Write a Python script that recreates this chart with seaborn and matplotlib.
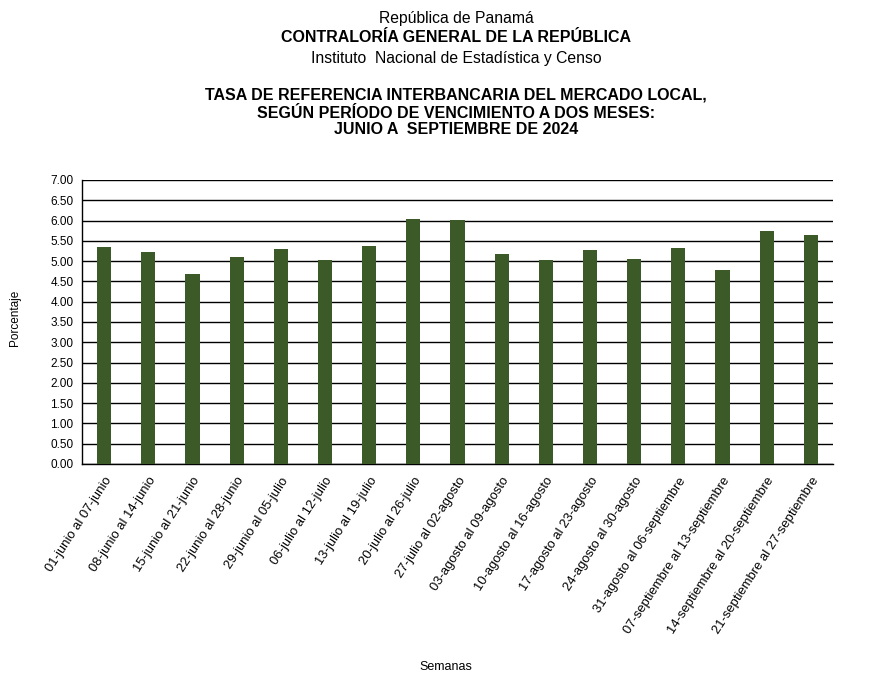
import matplotlib
matplotlib.use("Agg")
import matplotlib.pyplot as plt
import seaborn as sns
import pandas as pd

semanas = [
    "01-junio al 07-junio", "08-junio al 14-junio", "15-junio al 21-junio",
    "22-junio al 28-junio", "29-junio al 05-julio", "06-julio al 12-julio",
    "13-julio al 19-julio", "20-julio al 26-julio", "27-julio al 02-agosto",
    "03-agosto al 09-agosto", "10-agosto al 16-agosto", "17-agosto al 23-agosto",
    "24-agosto al 30-agosto", "31-agosto al 06-septiembre",
    "07-septiembre al 13-septiembre", "14-septiembre al 20-septiembre",
    "21-septiembre al 27-septiembre",
]
tasas = [5.35, 5.23, 4.68, 5.10, 5.30, 5.03, 5.37, 6.04, 6.01,
         5.18, 5.03, 5.27, 5.05, 5.32, 4.78, 5.74, 5.64]
yticks = [0.0, 0.5, 1.0, 1.5, 2.0, 2.5, 3.0, 3.5, 4.0, 4.5, 5.0, 5.5, 6.0, 6.5, 7.0]

df = pd.DataFrame({"Semana": semanas, "Tasa": tasas})

sns.set_theme(style="white")
plt.rcParams["font.family"] = ["Liberation Sans", "DejaVu Sans"]
plt.rcParams["text.color"] = "black"
plt.rcParams["xtick.color"] = "black"
plt.rcParams["ytick.color"] = "black"

fig = plt.figure(figsize=(8.77, 6.76), dpi=100)
ax = fig.add_axes([82/877, 1-464/676, (833-82)/877, (464-180)/676])

sns.barplot(data=df, x="Semana", y="Tasa", color="#3B5A27", saturation=1,
            width=0.32, ax=ax, zorder=3, edgecolor="none", linewidth=0)

ax.set_ylim(0, 7.0)
ax.set_xlim(-0.5, len(semanas)-0.5)
ax.set_yticks(yticks)
ax.set_yticklabels([f"{v:.2f}" for v in yticks], fontsize=8.5, color="black")
ax.yaxis.grid(True, color="black", linewidth=1.0, zorder=0)
ax.set_axisbelow(True)
for s in ["top", "right"]:
    ax.spines[s].set_visible(False)
for s in ["left", "bottom"]:
    ax.spines[s].set_visible(True)
    ax.spines[s].set_color("black")
    ax.spines[s].set_linewidth(1.0)
ax.tick_params(axis="both", length=0, pad=6, colors="black")
ax.set_xticks(range(len(semanas)))
ax.set_xticklabels(semanas, rotation=57, ha="right", rotation_mode="anchor",
                   fontsize=9.4, color="black")
ax.tick_params(axis="x", pad=8)
ax.set_xlabel("")
ax.set_ylabel("")

fig.text(15/877, 1-318/676, "Porcentaje", rotation=90, ha="center", va="center",
         fontsize=8.5, color="black")
fig.text(446/877, 1-667/676, "Semanas", ha="center", va="center", fontsize=9, color="black")

cx = 456/877
fig.text(cx, 1-19/676, "República de Panamá", ha="center", va="center", fontsize=11.3, color="black")
fig.text(cx, 1-38/676, "CONTRALORÍA GENERAL DE LA REPÚBLICA", ha="center", va="center",
         fontsize=11.5, fontweight="bold", color="black")
fig.text(cx, 1-58/676, "Instituto  Nacional de Estadística y Censo", ha="center", va="center",
         fontsize=11.3, color="black")
fig.text(cx, 1-95/676, "TASA DE REFERENCIA INTERBANCARIA DEL MERCADO LOCAL,",
         ha="center", va="center", fontsize=11.5, fontweight="bold", color="black")
fig.text(cx, 1-113/676, "SEGÚN PERÍODO DE VENCIMIENTO A DOS MESES:",
         ha="center", va="center", fontsize=11.5, fontweight="bold", color="black")
fig.text(cx, 1-130/676, "JUNIO A  SEPTIEMBRE DE 2024",
         ha="center", va="center", fontsize=11.5, fontweight="bold", color="black")

fig.savefig("out.png", dpi=100, facecolor="white")
